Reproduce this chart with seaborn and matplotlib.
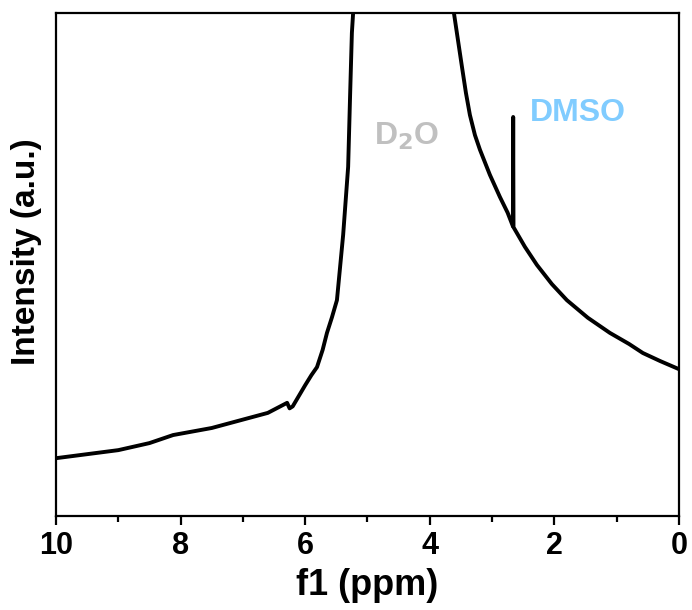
import seaborn as sns
import matplotlib.pyplot as plt
import pandas as pd

# chemical shift (ppm) and intensity (a.u.)
ppm = [10.0, 9.5, 9.0, 8.5, 8.12, 7.5, 7.05, 6.6, 6.29, 6.25, 6.20, 6.0, 5.9,
       5.81, 5.72, 5.65, 5.57, 5.49, 5.39, 5.31, 5.28, 5.25, 5.23, 5.1, 4.4,
       3.75, 3.612, 3.547, 3.483, 3.419, 3.355, 3.274, 3.194, 3.034, 2.873,
       2.75, 2.665, 2.66, 2.655, 2.472, 2.279, 2.039, 1.798, 1.461, 1.108,
       0.8, 0.578, 0.3, 0.0]
intensity = [11.5, 12.3, 13.1, 14.5, 16.1, 17.5, 19.0, 20.5, 22.5, 21.4, 21.8,
             26.0, 28.0, 29.6, 33.0, 36.4, 39.5, 42.9, 55.9, 69.4, 83.0, 96.0,
             100.0, 130.0, 500.0, 130.0, 100.0, 94.6, 89.3, 84.1, 79.7, 75.7,
             72.8, 67.8, 63.4, 60.3, 57.6, 79.3, 57.4, 53.5, 49.9, 46.1, 42.9,
             39.4, 36.4, 34.2, 32.4, 30.8, 29.2]

xticks = [10, 8, 6, 4, 2, 0]

df = pd.DataFrame({'ppm': ppm, 'intensity': intensity})

sns.set_style('ticks')
plt.rcParams['font.family'] = ['Liberation Sans', 'DejaVu Sans']
plt.rcParams['font.weight'] = 'bold'
plt.rcParams['text.color'] = 'black'
plt.rcParams['axes.labelcolor'] = 'black'
plt.rcParams['xtick.color'] = 'black'

fig = plt.figure(figsize=(6.92, 6.10), dpi=100)
ax = fig.add_axes([0.081, 0.154, 0.900, 0.825])

sns.lineplot(data=df, x='ppm', y='intensity', sort=False, estimator=None,
             color='black', linewidth=2.8, ax=ax)

ax.set_xlim(10, 0)
ax.set_ylim(0, 100)
ax.set_xticks(xticks)
ax.set_xticks([9, 7, 5, 3, 1], minor=True)
ax.set_xticklabels([str(t) for t in xticks], fontsize=22, fontweight='bold')
ax.set_yticks([])
ax.tick_params(axis='x', which='major', direction='out', length=6.5, width=1.6, pad=4)
ax.tick_params(axis='x', which='minor', direction='out', length=4, width=1.6)
for s in ax.spines.values():
    s.set_visible(True)
    s.set_linewidth(1.6)
    s.set_color('black')

ax.set_xlabel('f1 (ppm)', fontsize=26, fontweight='bold', labelpad=5)
ax.set_ylabel('Intensity (a.u.)', fontsize=24, fontweight='bold', labelpad=10)
ax.yaxis.label.set_y(0.525)

ax.text(4.37, 75.5, 'D$_\\mathbf{2}$O', color='#c0c0c0', fontsize=23,
        fontweight='bold', ha='center', va='center')
ax.text(1.62, 80.1, 'DMSO', color='#80ccff', fontsize=23,
        fontweight='bold', ha='center', va='center')

plt.savefig('out.png', dpi=100)
